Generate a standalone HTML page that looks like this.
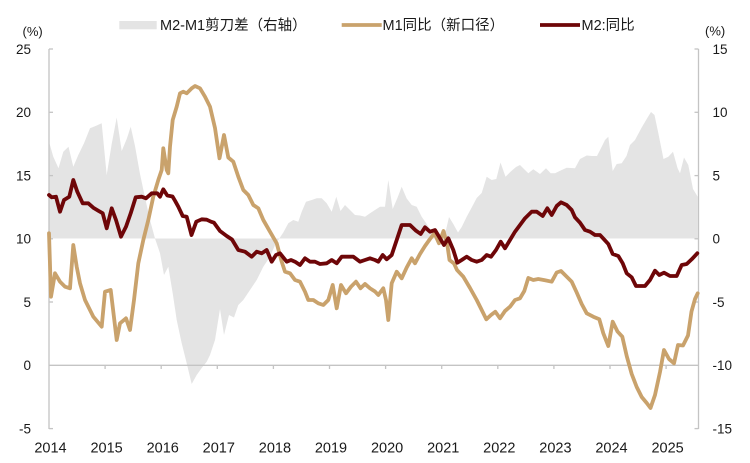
<!DOCTYPE html>
<html>
<head>
<meta charset="utf-8">
<style>
html,body{margin:0;padding:0;background:#fff;}
svg{display:block;}
text{font-family:"Liberation Sans","Noto Sans CJK SC",sans-serif;fill:#1a1a1a;}
</style>
</head>
<body>
<svg width="750" height="463" viewBox="0 0 750 463" xmlns="http://www.w3.org/2000/svg">
<rect width="750" height="463" fill="#fff"/>

<!-- spread area -->
<polygon fill="#e4e4e4" points="49,141.7 53.3,156.7 58.5,168.3 63.3,151.7 68.5,146.7 73.3,166.7 78.3,155 84,143.3 90,128.3 96.7,125.5 101.7,123.3 106.7,175 111.7,144 116.7,117.5 121.7,151 126.7,139 130.7,126.7 135,146 140,174 145,197.5 150,220 155,238.5 160,253.3 164,275 168.3,266.7 172.7,293.3 176.7,320 181.7,343.3 186.7,363.3 191.7,384 196.7,375 201.7,368 206.7,361.7 210,355 215,340 220,309 224,335 229,315 234,317.5 238.3,305 243.3,300 250,290 256.7,280 263.3,266.7 270,256.7 275,245 279.3,238.5 283.3,232.5 288.3,223.3 293.3,220 298.3,221.7 301.7,211.7 306,201.7 311.7,200 316.7,198.3 321.7,198.3 326.7,203.3 331.7,211.7 336.3,196.7 340.5,211 345,205 350,210 355,215 360,215.5 365,216.7 370,213.3 375,210 380,206.7 385,206.7 388.3,180 392.7,209 397.3,198.3 401.7,186.7 406.7,198.5 411.7,205 416.7,206.7 421.7,216.7 426.7,224 431.7,232 436.7,236.7 442.7,238 446,230 449,217 453.3,224 458,232.5 461.7,227 466.7,216.7 471.7,207.5 476.7,198 481.7,193 486.7,176.7 491.7,180 496.3,179 500.5,162.5 505.5,176.7 510.5,171.7 516,167 520,165 525,170 528.3,173.3 533.3,169.3 540,174 546,168.3 550.7,173.3 555,173.3 561.7,170 566.7,167.8 575,168.3 580,159 586.7,155.5 592,156 597,156 601.7,146.7 605,140 608.3,136.7 612.7,171 616.7,164 621.7,163.3 626.5,156 630,145 635,140 641.7,127.5 646.7,119 651,112 654.5,115 658.3,133 663.5,159 668.3,156.7 673,151.7 677.5,168 680,173.3 684,157.5 688.3,165 693,189 697.7,196.7 697.7,238.5 49,238.5"/>

<!-- axes -->
<g stroke="#c4c4c4" stroke-width="1.3" fill="none">
  <line x1="49" y1="49" x2="49" y2="429"/>
  <line x1="698.5" y1="49" x2="698.5" y2="429"/>
  <line x1="49" y1="365.3" x2="698.5" y2="365.3"/>
  <!-- left ticks -->
  <line x1="49" y1="49" x2="53" y2="49"/>
  <line x1="49" y1="112.3" x2="53" y2="112.3"/>
  <line x1="49" y1="175.6" x2="53" y2="175.6"/>
  <line x1="49" y1="238.8" x2="53" y2="238.8"/>
  <line x1="49" y1="302" x2="53" y2="302"/>
  <line x1="49" y1="428.6" x2="53" y2="428.6"/>
  <!-- right ticks -->
  <line x1="694.5" y1="49" x2="698.5" y2="49"/>
  <line x1="694.5" y1="112.3" x2="698.5" y2="112.3"/>
  <line x1="694.5" y1="175.6" x2="698.5" y2="175.6"/>
  <line x1="694.5" y1="238.8" x2="698.5" y2="238.8"/>
  <line x1="694.5" y1="302" x2="698.5" y2="302"/>
  <line x1="694.5" y1="428.6" x2="698.5" y2="428.6"/>
  <!-- x ticks -->
  <line x1="105.1" y1="365.3" x2="105.1" y2="369"/>
  <line x1="161.2" y1="365.3" x2="161.2" y2="369"/>
  <line x1="217.3" y1="365.3" x2="217.3" y2="369"/>
  <line x1="273.4" y1="365.3" x2="273.4" y2="369"/>
  <line x1="329.5" y1="365.3" x2="329.5" y2="369"/>
  <line x1="385.6" y1="365.3" x2="385.6" y2="369"/>
  <line x1="441.7" y1="365.3" x2="441.7" y2="369"/>
  <line x1="497.8" y1="365.3" x2="497.8" y2="369"/>
  <line x1="553.9" y1="365.3" x2="553.9" y2="369"/>
  <line x1="610" y1="365.3" x2="610" y2="369"/>
  <line x1="666.1" y1="365.3" x2="666.1" y2="369"/>
</g>

<!-- M1 -->
<polyline fill="none" stroke="#c9a26c" stroke-width="3.8" stroke-linejoin="round" stroke-linecap="round" points="49,233.3 51,296.7 55,273.3 60,281.7 65,286.7 70,288.3 73.3,245 76.7,266.7 80,283.3 85,300 93.3,316.7 101.7,326.7 105,291.7 110.7,290 116.7,340 120,323.3 126,318.3 130,330 134,300 138.3,263.3 143.3,240 148.3,220 153.3,196.7 158.3,180 161.7,170 163.3,148.3 166.7,170 168.3,173.3 170,146.7 172.7,120 176.7,106.7 180,93.3 183.3,91.7 186.7,93.3 191.7,88.3 195,86 200,88.3 205,96.7 210,106.7 215,128 219.5,158.3 224,135 228.3,157.5 233.3,161.7 238.3,176.7 243.3,190 248.3,195 253.3,205 258.3,208.3 263.3,220 270,231.7 276.7,243.3 281.7,261.7 285,271.7 290,273.3 295,280 300,281.7 305,291.7 308.3,300 313.3,300 318.3,303.3 323.3,305 328.3,300 332.7,285 336.7,308.3 341,285 346,293.3 351,286.7 356,281.7 360.5,288.3 365,284 370,288.3 375,291.5 378.3,295 383.3,288.3 386,300 388.3,320 391.7,283.3 396.7,271.7 401.7,278.3 406.7,267.5 411.7,258.3 415,263.3 420,254 425,246 430,239 434.5,233.3 439,243.3 443.5,231 447.5,246 449.5,260 454,263.5 457,270 463.3,276.7 470,288 476.7,300 481.7,310 486.3,319.3 491,315 495.3,311.7 500,318.3 505,311 510,306.7 515,300 520,298.3 524.3,291 528.3,278 533.3,280 538.3,279 545,280.3 551.7,281.7 556.7,272.5 561,271 566.7,276.7 571.7,281.7 576.7,292.5 581.7,304 586.7,313.3 593.3,316.7 599.3,319.3 603.3,333.3 608.3,346 612.7,321.7 617.5,331.5 622.3,336.7 626.7,356 631.7,374 636.7,387 641.7,397 646.7,403 650.5,408 655,395 660,372 664,350 669,359 674,363.3 678,345 683,345.5 688,335.5 691.5,311.5 695,299 697.7,293.3"/>

<!-- M2 -->
<polyline fill="none" stroke="#6e0608" stroke-width="3.8" stroke-linejoin="round" stroke-linecap="round" points="49,195 51.7,197.3 56,196.7 60,211.7 64,200 69.3,196.7 73.3,180 77.3,191.7 82.7,203.3 88.3,203.3 93.3,207.7 98.3,210.7 102.7,213.3 106.7,228.3 111.7,208.3 116,220 121,236.7 126,226.7 130.7,213.3 135.7,197.3 141.7,196.7 146,198.3 151.7,193.3 157.3,193.3 160,196.7 163.3,189.3 167.3,195.5 172.5,196.5 175,200.7 178.3,206.7 182.7,216 186.7,216.7 191.5,235 196.3,221.7 201.7,219.3 206.7,219.7 211,221.7 214,222.7 220,231 226.7,236 232,239.5 238.3,250 245,251.7 251.7,256.7 256.7,251.7 261.7,253.3 266.7,250 271.7,261.7 276,255 280,253.3 286.7,261.7 291,260 295,261.7 300,265 305,258.3 310,261.7 315,261.7 320,264 326.7,263.3 331.7,260 336.7,263.3 341.7,256.7 353.3,256.7 360,261.7 365,260 370,258.3 375,260 378.3,261.7 382.7,255 386.7,259.3 391.7,255 396.7,240 401.7,225 410,225 416,230.7 420.7,234 425,227.3 430,231.7 435,230 440,238.3 444,245 448.3,238.3 453.3,250 457.3,262.7 461.7,260 466.7,256.7 471.7,260 476.7,261.7 481.7,260 486.7,255 491,256.7 496,250 500.7,241.7 505,248.3 510,240 515,231.7 520,225 525,218.3 531.7,211.7 536.7,211.7 542.7,216 547.3,208.3 551.7,215 556.7,206 561,202.3 566.7,205 571.7,210 575,217.3 580,222.7 585,230 590,231.7 595,235 600,235 604,239.3 608.3,244 612.7,254 618.3,256 622.7,263.3 626.7,273.3 631.7,277.3 636,286 645,286 650,280 655,270.7 659.3,275 664,272.7 670,276 676.7,276 681.7,265 686.7,264 691.7,259.3 697.3,253.3"/>

<!-- left axis labels -->
<g font-size="13.5" text-anchor="end">
  <text x="31" y="54">25</text>
  <text x="31" y="117.2">20</text>
  <text x="31" y="180.5">15</text>
  <text x="31" y="243.7">10</text>
  <text x="31" y="307">5</text>
  <text x="31" y="370.2">0</text>
  <text x="31" y="433.5">-5</text>
</g>
<text x="22.5" y="36" font-size="13">(%)</text>

<!-- right axis labels -->
<g font-size="13.5" text-anchor="start">
  <text x="712.5" y="54">15</text>
  <text x="712.5" y="117.2">10</text>
  <text x="712.5" y="180.5">5</text>
  <text x="712.5" y="243.7">0</text>
  <text x="712.5" y="307">-5</text>
  <text x="712.5" y="370.2">-10</text>
  <text x="712.5" y="433.5">-15</text>
</g>
<text x="705" y="35.5" font-size="13">(%)</text>

<!-- x labels -->
<g font-size="14.5" text-anchor="middle">
  <text x="50.5" y="452.5">2014</text>
  <text x="106.6" y="452.5">2015</text>
  <text x="162.7" y="452.5">2016</text>
  <text x="218.8" y="452.5">2017</text>
  <text x="274.9" y="452.5">2018</text>
  <text x="331" y="452.5">2019</text>
  <text x="387.1" y="452.5">2020</text>
  <text x="443.2" y="452.5">2021</text>
  <text x="499.3" y="452.5">2022</text>
  <text x="555.4" y="452.5">2023</text>
  <text x="611.5" y="452.5">2024</text>
  <text x="667.6" y="452.5">2025</text>
</g>

<!-- legend -->
<rect x="119.3" y="21" width="37.4" height="8.3" fill="#e4e4e4"/>
<text x="160" y="30" font-size="14.5">M2-M1剪刀差（右轴）</text>
<line x1="341.7" y1="25" x2="381.7" y2="25" stroke="#c9a26c" stroke-width="3.8"/>
<text x="382.5" y="30" font-size="14.5">M1同比（新口径）</text>
<line x1="540" y1="25" x2="580" y2="25" stroke="#6e0608" stroke-width="3.8"/>
<text x="581.5" y="30" font-size="14.5">M2:同比</text>
</svg>
</body>
</html>
